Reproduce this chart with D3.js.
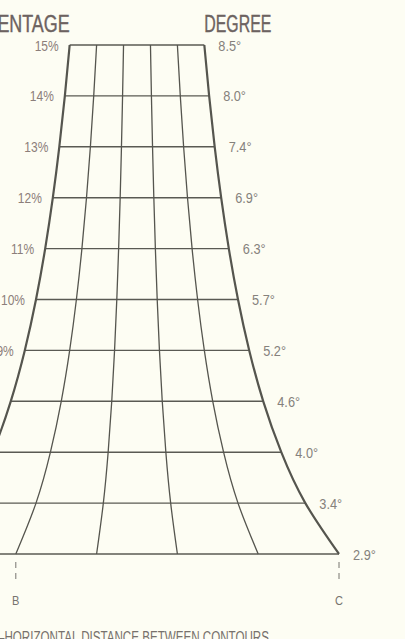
<!DOCTYPE html>
<html>
<head>
<meta charset="utf-8">
<script src="https://cdn.jsdelivr.net/npm/d3@7"></script>
<style>
  html, body { margin: 0; padding: 0; background: #fdfdf3; }
  svg { display: block; }
  text { font-family: "Liberation Sans", Arial, sans-serif; }
</style>
</head>
<body>
<div id="chart"></div>
<script>
// slope rows, top to bottom
var percents = [15, 14, 13, 12, 11, 10, 9, 8, 7, 6, 5];
var degrees = ["8.5°", "8.0°", "7.4°", "6.9°", "6.3°", "5.7°", "5.2°", "4.6°", "4.0°", "3.4°", "2.9°"];
var divisions = [0, 0.2, 0.4, 0.6, 0.8, 1]; // grid columns across each row
var ends = [{ label: "B", at: 0.2 }, { label: "C", at: 1 }];
var caption = "–HORIZONTAL DISTANCE BETWEEN CONTOURS";

var width = 405, height = 639;

var svg = d3.select("#chart").append("svg")
    .attr("width", width)
    .attr("height", height);

svg.append("rect")
    .attr("width", width)
    .attr("height", height)
    .attr("fill", "#fdfdf3");

// y: slope percent, x: horizontal distance (1 / slope) around a centre line
var yScale = d3.scaleLinear()
    .domain([15, 5])
    .range([45, 554]);

var xScale = d3.scaleLinear()
    .domain([-0.1, 0.1]) // half distance for 5% either side
    .range([137 - 202, 137 + 202]);

function leftX(p) { return xScale(-0.5 / p); }
function rightX(p) { return xScale(0.5 / p); }
function gridX(p, f) { return leftX(p) + f * (rightX(p) - leftX(p)); }

// squeeze text to look like a condensed face
function condense(sel, k) {
    sel.each(function() {
        var w = this.getComputedTextLength();
        d3.select(this).attr("textLength", w * k).attr("lengthAdjust", "spacingAndGlyphs");
    });
}

var line = d3.line()
    .x(function(d) { return d[0]; })
    .y(function(d) { return d[1]; })
    .curve(d3.curveNatural);

// horizontal rungs
svg.selectAll(".rung")
    .data(percents)
    .enter().append("line")
    .attr("class", "rung")
    .attr("x1", function(d) { return leftX(d); })
    .attr("x2", function(d) { return rightX(d); })
    .attr("y1", function(d) { return yScale(d); })
    .attr("y2", function(d) { return yScale(d); })
    .attr("stroke", "#5a5a53")
    .attr("stroke-width", 1.4);

// vertical curves (outer ones heavier)
svg.selectAll(".col")
    .data(divisions)
    .enter().append("path")
    .attr("class", "col")
    .attr("fill", "none")
    .attr("stroke", "#55554e")
    .attr("stroke-width", function(f) { return (f == 0 || f == 1) ? 2.2 : 1.3; })
    .attr("d", function(f) {
        return line(percents.map(function(p) { return [gridX(p, f), yScale(p)]; }));
    });

// percent labels on the left
svg.selectAll(".pct")
    .data(percents)
    .enter().append("text")
    .attr("class", "pct")
    .attr("x", function(d) { return leftX(d) - 11; })
    .attr("y", function(d) { return yScale(d) + 5.5; })
    .attr("text-anchor", "end")
    .style("font-size", "15px")
    .style("fill", "#8c7e7a")
    .text(function(d) { return d + "%"; })
    .call(condense, 0.8);

// degree labels on the right
svg.selectAll(".deg")
    .data(percents)
    .enter().append("text")
    .attr("class", "deg")
    .attr("x", function(d) { return rightX(d) + 14; })
    .attr("y", function(d) { return yScale(d) + 5.5; })
    .style("font-size", "15px")
    .style("fill", "#85817c")
    .text(function(d, i) { return degrees[i]; })
    .call(condense, 0.85);

// headings
svg.append("text")
    .attr("x", leftX(15))
    .attr("y", 32)
    .attr("text-anchor", "end")
    .attr("textLength", 122)
    .attr("lengthAdjust", "spacingAndGlyphs")
    .style("font-size", "23px")
    .style("fill", "#6c6260")
    .style("stroke", "#6c6260")
    .style("stroke-width", 0.4)
    .text("PERCENTAGE");

svg.append("text")
    .attr("x", rightX(15))
    .attr("y", 32)
    .attr("textLength", 67)
    .attr("lengthAdjust", "spacingAndGlyphs")
    .style("font-size", "23px")
    .style("fill", "#6c6260")
    .style("stroke", "#6c6260")
    .style("stroke-width", 0.4)
    .text("DEGREE");

// B and C end markers
var bottom = yScale(5);
svg.selectAll(".tick-mark")
    .data(ends)
    .enter().append("line")
    .attr("class", "tick-mark")
    .attr("x1", function(d) { return gridX(5, d.at); })
    .attr("x2", function(d) { return gridX(5, d.at); })
    .attr("y1", bottom + 8)
    .attr("y2", bottom + 27)
    .attr("stroke", "#77746f")
    .attr("stroke-width", 1)
    .attr("stroke-dasharray", "6,5");

svg.selectAll(".end-label")
    .data(ends)
    .enter().append("text")
    .attr("class", "end-label")
    .attr("x", function(d) { return gridX(5, d.at); })
    .attr("y", bottom + 51)
    .attr("text-anchor", "middle")
    .style("font-size", "13px")
    .style("fill", "#77746f")
    .text(function(d) { return d.label; })
    .call(condense, 0.85);

svg.append("text")
    .attr("x", -2)
    .attr("y", 643)
    .attr("textLength", 271)
    .attr("lengthAdjust", "spacingAndGlyphs")
    .style("font-size", "16px")
    .style("fill", "#77716c")
    .text(caption);
</script>
</body>
</html>
